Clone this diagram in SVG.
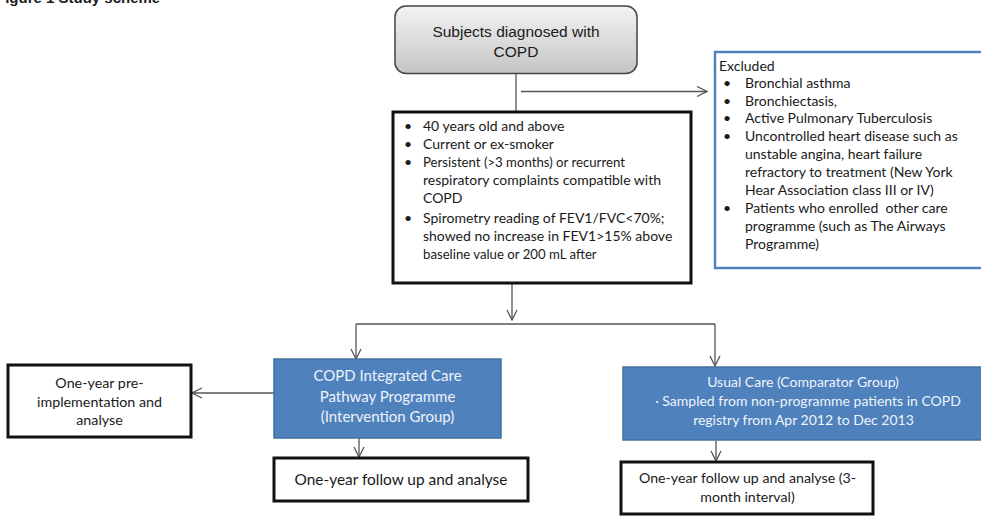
<svg xmlns="http://www.w3.org/2000/svg" width="981" height="516" viewBox="0 0 981 516">
<defs>
<linearGradient id="gray" x1="0" y1="0" x2="0" y2="1">
<stop offset="0" stop-color="#f4f4f4"/>
<stop offset="1" stop-color="#c4c4c4"/>
</linearGradient>
<marker id="arr" viewBox="0 0 12 12" refX="11" refY="6" markerWidth="12" markerHeight="12" markerUnits="userSpaceOnUse" orient="auto">
<path d="M1,1 L11,6 L1,11" fill="none" stroke="#555" stroke-width="1.3"/>
</marker>
</defs>
<style>
text{font-family:Lato,"Open Sans","Liberation Sans",sans-serif;font-size:14px;fill:#1a1a1a}
.c{text-anchor:middle}
.w{fill:#eef3fa}
.box{fill:#fff;stroke:#111;stroke-width:3}
.blue{fill:#4f81bd;stroke:#41719c;stroke-width:1.5}
.conn{fill:none;stroke:#555;stroke-width:1.3}
.cap{font-family:"Liberation Sans",Arial,sans-serif;font-weight:bold;font-size:15px}
.s{font-size:13.2px}
.b15{font-size:15px}
.pre{white-space:pre}
</style>
<rect width="981" height="516" fill="#fff"/>
<text class="cap" x="-4" y="2.5">Figure 1 Study scheme</text>

<g id="connectors">
<line class="conn" x1="516" y1="74" x2="516" y2="112"/>
<line class="conn" x1="521" y1="91.5" x2="707" y2="91.5" marker-end="url(#arr)"/>
<line class="conn" x1="512" y1="283" x2="512" y2="320" marker-end="url(#arr)"/>
<polyline class="conn" points="356,324 715,324"/>
<line class="conn" x1="356" y1="324" x2="356" y2="359" marker-end="url(#arr)"/>
<line class="conn" x1="715" y1="324" x2="715" y2="366" marker-end="url(#arr)"/>
<line class="conn" x1="274" y1="393" x2="192" y2="393" marker-end="url(#arr)"/>
<line class="conn" x1="359" y1="438" x2="359" y2="457" marker-end="url(#arr)"/>
<line class="conn" x1="716" y1="441" x2="716" y2="461" marker-end="url(#arr)"/>
</g>

<g id="subjects">
<rect x="395" y="6" width="242" height="67.5" rx="11" fill="url(#gray)" stroke="#444" stroke-width="1.5"/>
<text class="c" x="516" y="37" style="font-family:'Liberation Sans',Arial,sans-serif;font-size:15.5px">Subjects diagnosed with</text>
<text class="c" x="516" y="57" style="font-family:'Liberation Sans',Arial,sans-serif;font-size:15.5px">COPD</text>
</g>

<g id="criteria">
<rect class="box" x="393" y="112" width="298" height="171"/>
<text x="404" y="131">•</text><text x="423" y="131">40 years old and above</text>
<text x="404" y="149">•</text><text x="423" y="149">Current or ex-smoker</text>
<text x="404" y="167">•</text><text class="s" x="423" y="167">Persistent (&gt;3 months) or recurrent</text>
<text x="423" y="185">respiratory complaints compatible with</text>
<text x="423" y="203">COPD</text>
<text x="404" y="223">•</text><text x="423" y="223">Spirometry reading of FEV1/FVC&lt;70%;</text>
<text x="423" y="241">showed no increase in FEV1&gt;15% above</text>
<text class="s" x="423" y="259">baseline value or 200 mL after</text>
</g>

<g id="excluded">
<rect x="715" y="52" width="280" height="216" fill="#fff" stroke="#4f81bd" stroke-width="2.5"/>
<text x="719" y="71">Excluded</text>
<text x="723" y="88">•</text><text x="745" y="88">Bronchial asthma</text>
<text x="723" y="106">•</text><text x="745" y="106">Bronchiectasis,</text>
<text x="723" y="123">•</text><text x="745" y="123">Active Pulmonary Tuberculosis</text>
<text x="723" y="141">•</text><text x="745" y="141">Uncontrolled heart disease such as</text>
<text x="745" y="159">unstable angina, heart failure</text>
<text x="745" y="177">refractory to treatment (New York</text>
<text x="745" y="195">Hear Association class III or IV)</text>
<text x="723" y="213">•</text><text class="pre" x="745" y="213">Patients who enrolled  other care</text>
<text x="745" y="231">programme (such as The Airways</text>
<text x="745" y="249">Programme)</text>
</g>

<g id="intervention">
<rect class="blue" x="274" y="359" width="227" height="79"/>
<text class="c w b15" x="387.5" y="381">COPD Integrated Care</text>
<text class="c w b15" x="387.5" y="401.5">Pathway Programme</text>
<text class="c w b15" x="387.5" y="421.5">(Intervention Group)</text>
</g>

<g id="pre">
<rect class="box" x="8" y="365" width="183" height="72"/>
<text class="c" x="99.5" y="388" style="font-size:14.3px">One-year pre-</text>
<text class="c" x="99.5" y="407" style="font-size:14.3px">implementation and</text>
<text class="c" x="99.5" y="425" style="font-size:14.3px">analyse</text>
</g>

<g id="followup1">
<rect class="box" x="274" y="458" width="254" height="43"/>
<text class="c" x="401" y="485" style="font-size:15.4px">One-year follow up and analyse</text>
</g>

<g id="usual">
<rect class="blue" x="623" y="367" width="370" height="73"/>
<text class="c w" x="803" y="387">Usual Care (Comparator Group)</text>
<text class="c w" x="808" y="406">· Sampled from non-programme patients in COPD</text>
<text class="c w" x="803.5" y="425">registry from Apr 2012 to Dec 2013</text>
</g>

<g id="followup2">
<rect class="box" x="621" y="462" width="252" height="52"/>
<text class="c" x="747.5" y="483" style="font-size:14.2px">One-year follow up and analyse (3-</text>
<text class="c" x="747.5" y="502" style="font-size:14.2px">month interval)</text>
</g>
</svg>
